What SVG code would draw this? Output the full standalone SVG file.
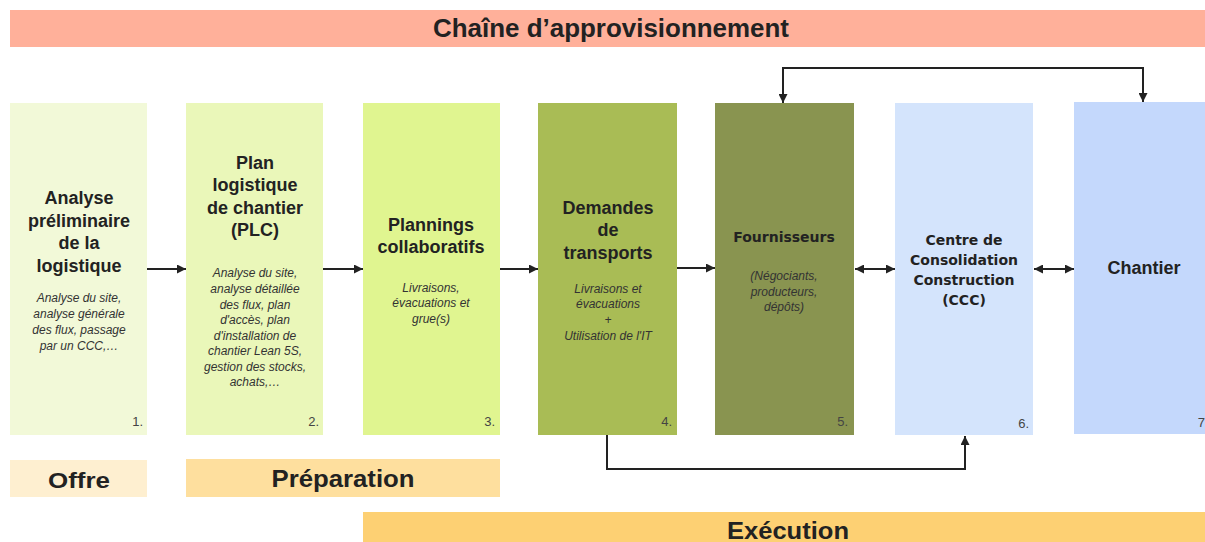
<svg xmlns="http://www.w3.org/2000/svg" width="1205" height="542" viewBox="0 0 1205 542">
<style>
.t{font-family:"Liberation Sans",Arial,sans-serif;fill:#222;text-anchor:middle}
.h{font-size:18px;font-weight:bold}
.h2{font-family:"DejaVu Sans",Verdana,sans-serif;font-size:14px;font-weight:bold}
.i{font-size:12px;font-style:italic;fill:#333}
.n{font-size:13px;fill:#444;text-anchor:end}
.band{font-family:"Liberation Sans",Arial,sans-serif;font-weight:bold;fill:#222;text-anchor:middle;font-size:25px}
.c{fill:none;stroke:#222;stroke-width:2}
</style>
<defs>
<marker id="ah" viewBox="0 0 10 10" refX="10" refY="5" markerWidth="10" markerHeight="9" markerUnits="userSpaceOnUse" orient="auto-start-reverse">
<path d="M0,0 L10,5 L0,10 z" fill="#222"/>
</marker>
</defs>
<rect width="1205" height="542" fill="#fff"/>
<g id="band-top">
<rect x="10" y="10" width="1195" height="37" fill="#FFB09A"/>
<text class="band" x="611" y="37" textLength="356" lengthAdjust="spacingAndGlyphs">Chaîne d’approvisionnement</text>
</g>
<g id="n1">
<rect x="10" y="103" width="137" height="332" fill="#F2F9D8"/>
<text class="t h" x="79" y="204">Analyse</text>
<text class="t h" x="79" y="227">préliminaire</text>
<text class="t h" x="79" y="249">de la</text>
<text class="t h" x="79" y="272">logistique</text>
<text class="t i" x="79" y="302">Analyse du site,</text>
<text class="t i" x="79" y="318">analyse générale</text>
<text class="t i" x="79" y="334">des flux, passage</text>
<text class="t i" x="79" y="350">par un CCC,…</text>
<text class="t n" x="143" y="426">1.</text>
</g>
<g id="n2">
<rect x="186" y="103" width="137" height="332" fill="#EAF7B9"/>
<text class="t h" x="255" y="169">Plan</text>
<text class="t h" x="255" y="191">logistique</text>
<text class="t h" x="255" y="214">de chantier</text>
<text class="t h" x="255" y="236">(PLC)</text>
<text class="t i" x="255" y="277">Analyse du site,</text>
<text class="t i" x="255" y="293">analyse détaillée</text>
<text class="t i" x="255" y="309">des flux, plan</text>
<text class="t i" x="255" y="324">d'accès, plan</text>
<text class="t i" x="255" y="340">d'installation de</text>
<text class="t i" x="255" y="355">chantier Lean 5S,</text>
<text class="t i" x="255" y="371">gestion des stocks,</text>
<text class="t i" x="255" y="386">achats,…</text>
<text class="t n" x="319" y="426">2.</text>
</g>
<g id="n3">
<rect x="363" y="103" width="137" height="332" fill="#E0F590"/>
<text class="t h" x="431" y="231">Plannings</text>
<text class="t h" x="431" y="253">collaboratifs</text>
<text class="t i" x="431" y="292">Livraisons,</text>
<text class="t i" x="431" y="307">évacuations et</text>
<text class="t i" x="431" y="323">grue(s)</text>
<text class="t n" x="495" y="426">3.</text>
</g>
<g id="n4">
<rect x="538" y="103" width="139" height="332" fill="#A9BC55"/>
<text class="t h" x="608" y="214">Demandes</text>
<text class="t h" x="608" y="236">de</text>
<text class="t h" x="608" y="259">transports</text>
<text class="t i" x="608" y="293">Livraisons et</text>
<text class="t i" x="608" y="308">évacuations</text>
<text class="t i" x="608" y="324">+</text>
<text class="t i" x="608" y="340">Utilisation de l'IT</text>
<text class="t n" x="672" y="426">4.</text>
</g>
<g id="n5">
<rect x="715" y="103" width="139" height="332" fill="#899450"/>
<text class="t h2" x="784" y="242">Fournisseurs</text>
<text class="t i" x="784" y="280">(Négociants,</text>
<text class="t i" x="784" y="296">producteurs,</text>
<text class="t i" x="784" y="311">dépôts)</text>
<text class="t n" x="848" y="426">5.</text>
</g>
<g id="n6">
<rect x="895" y="103" width="138" height="332" fill="#D4E4FC"/>
<text class="t h2" x="964" y="245">Centre de</text>
<text class="t h2" x="964" y="265">Consolidation</text>
<text class="t h2" x="964" y="285">Construction</text>
<text class="t h2" x="964" y="305">(CCC)</text>
<text class="t n" x="1029" y="428">6.</text>
</g>
<g id="n7">
<rect x="1074" y="102" width="131" height="332" fill="#C4D8FC"/>
<text class="t h" x="1144" y="274">Chantier</text>
<text class="t n" x="1205" y="427">7</text>
</g>
<g id="band-offre">
<rect x="10" y="460" width="137" height="37" fill="#FEEFD0"/>
<text class="band" x="79" y="488" style="font-size:22px" textLength="62" lengthAdjust="spacingAndGlyphs">Offre</text>
</g>
<g id="band-preparation">
<rect x="186" y="459" width="314" height="38" fill="#FEDF9E"/>
<text class="band" x="343" y="487" style="font-size:23px" textLength="143" lengthAdjust="spacingAndGlyphs">Préparation</text>
</g>
<g id="band-execution">
<rect x="363" y="512" width="842" height="30" fill="#FDD073"/>
<text class="band" x="788" y="539" style="font-size:24px" textLength="122" lengthAdjust="spacingAndGlyphs">Exécution</text>
</g>
<g id="connectors">
<line class="c" x1="147" y1="269" x2="186" y2="269" marker-end="url(#ah)"/>
<line class="c" x1="323" y1="269" x2="363" y2="269" marker-end="url(#ah)"/>
<line class="c" x1="500" y1="269" x2="538" y2="269" marker-end="url(#ah)"/>
<line class="c" x1="677" y1="268" x2="715" y2="268" marker-end="url(#ah)"/>
<line class="c" x1="855" y1="269" x2="895" y2="269" marker-start="url(#ah)" marker-end="url(#ah)"/>
<line class="c" x1="1034" y1="269" x2="1074" y2="269" marker-start="url(#ah)" marker-end="url(#ah)"/>
<polyline class="c" points="783,103 783,68 1143,68 1143,102" marker-start="url(#ah)" marker-end="url(#ah)"/>
<polyline class="c" points="607,435 607,469 965,469 965,436" marker-end="url(#ah)"/>
</g>
</svg>
